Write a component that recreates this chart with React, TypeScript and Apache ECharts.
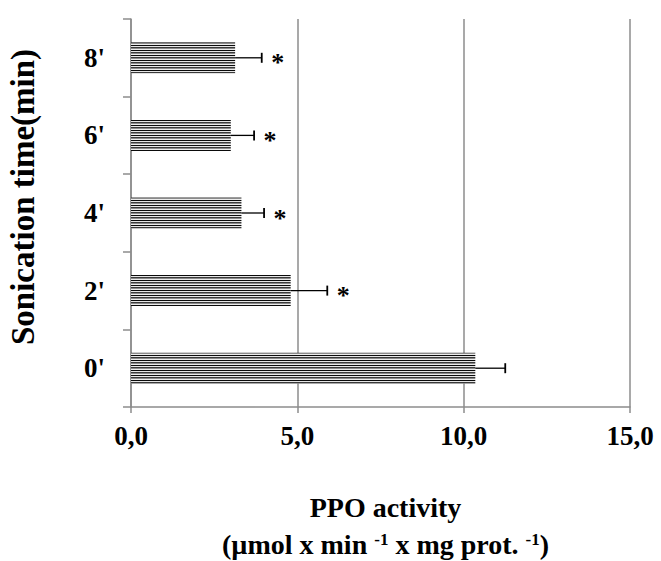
import React, { useEffect, useRef } from "react";
import * as echarts from "echarts";

const categories = ["0'", "2'", "4'", "6'", "8'"];
const means = [10.35, 4.8, 3.32, 3.0, 3.13];
const errors = [0.9, 1.1, 0.68, 0.7, 0.8];
const significant = [false, true, true, true, true];
const xTicks = [0, 5, 10, 15];

const SERIF = "'Liberation Serif', 'Times New Roman', serif";

function makePattern(): HTMLCanvasElement {
  const c = document.createElement("canvas");
  c.width = 4;
  c.height = 5;
  const ctx = c.getContext("2d")!;
  const rows = ["#0a0a0a", "#e6e6e6", "#3a3a3a", "#8a8a8a", "#ececec"];
  rows.forEach((col, i) => {
    ctx.fillStyle = col;
    ctx.fillRect(0, i, 4, 1);
  });
  return c;
}

export default function App() {
  const ref = useRef<HTMLDivElement>(null);
  useEffect(() => {
    if (!ref.current) return;
    const chart = echarts.init(ref.current, undefined, { renderer: "svg" });
    const pattern = makePattern();
    const errData = means.map((m, i) => [i, m, m + errors[i], significant[i] ? 1 : 0]);
    chart.setOption({
      animation: false,
      backgroundColor: "#ffffff",
      grid: {
        left: 131,
        right: 31,
        top: 19,
        bottom: 154,
        containLabel: false,
        outerBoundsMode: "none",
      },
      xAxis: {
        type: "value",
        min: xTicks[0],
        max: xTicks[xTicks.length - 1],
        interval: 5,
        axisLine: { show: true, lineStyle: { color: "#8c8c8c", width: 1.5 } },
        axisTick: { show: true, length: 6, lineStyle: { color: "#8c8c8c", width: 1.5 } },
        splitLine: { show: true, lineStyle: { color: "#8c8c8c", width: 1.5 } },
        axisLabel: {
          margin: 15,
          color: "#000",
          fontFamily: SERIF,
          fontWeight: "bold",
          fontSize: 27,
          formatter: (v: number) => v.toFixed(1).replace(".", ","),
        },
        name: "{t|PPO activity}\n{t|(µmol x min }{s|-1}{t| x mg prot. }{s|-1}{t|)}",
        nameLocation: "middle",
        nameGap: 82,
        nameTextStyle: {
          color: "#000",
          fontFamily: SERIF,
          fontWeight: "bold",
          fontSize: 28,
          lineHeight: 37,
          padding: [0, 0, 0, 10],
          rich: {
            t: { fontFamily: SERIF, fontWeight: "bold", fontSize: 28, color: "#000", lineHeight: 37 },
            s: { fontFamily: SERIF, fontWeight: "bold", fontSize: 17, color: "#000", lineHeight: 37, verticalAlign: "top", padding: [5, 0, 0, 0] },
          },
        },
      },
      yAxis: {
        type: "category",
        data: categories,
        axisLine: { show: true, lineStyle: { color: "#8c8c8c", width: 1.5 } },
        axisTick: { show: true, length: 8, lineStyle: { color: "#8c8c8c", width: 1.5 } },
        splitLine: { show: false },
        axisLabel: {
          margin: 26,
          color: "#000",
          fontFamily: SERIF,
          fontWeight: "bold",
          fontSize: 27,
        },
        name: "Sonication time(min)",
        nameLocation: "middle",
        nameRotate: 90,
        nameGap: 92,
        nameTextStyle: {
          color: "#000",
          fontFamily: SERIF,
          fontWeight: "bold",
          fontSize: 33,
          padding: [0, 0, 0, 32],
        },
      },
      series: [
        {
          type: "bar",
          data: means,
          barWidth: 31,
          itemStyle: { color: { image: pattern, repeat: "repeat" } as any },
          z: 2,
        },
        {
          type: "custom",
          data: errData,
          encode: { x: [1, 2], y: 0 },
          z: 3,
          renderItem: (params: any, api: any) => {
            const idx = api.value(0);
            const start = api.coord([api.value(1), idx]);
            const end = api.coord([api.value(2), idx]);
            const sig = api.value(3);
            const children: any[] = [
              {
                type: "line",
                shape: { x1: start[0], y1: start[1], x2: end[0], y2: end[1] },
                style: { stroke: "#000", lineWidth: 1.3 },
              },
              {
                type: "line",
                shape: { x1: end[0], y1: end[1] - 5, x2: end[0], y2: end[1] + 5 },
                style: { stroke: "#000", lineWidth: 1.8 },
              },
            ];
            if (sig) {
              children.push({
                type: "text",
                x: end[0] + 16,
                y: end[1] + 5,
                style: {
                  text: "*",
                  fill: "#000",
                  font: `bold 26px ${SERIF}`,
                  align: "center",
                  verticalAlign: "middle",
                },
              });
            }
            return { type: "group", children };
          },
        },
      ],
    });
    return () => chart.dispose();
  }, []);
  return (
    <div
      ref={ref}
      style={{ position: "fixed", left: 0, top: 0, width: 661, height: 561 }}
    />
  );
}
